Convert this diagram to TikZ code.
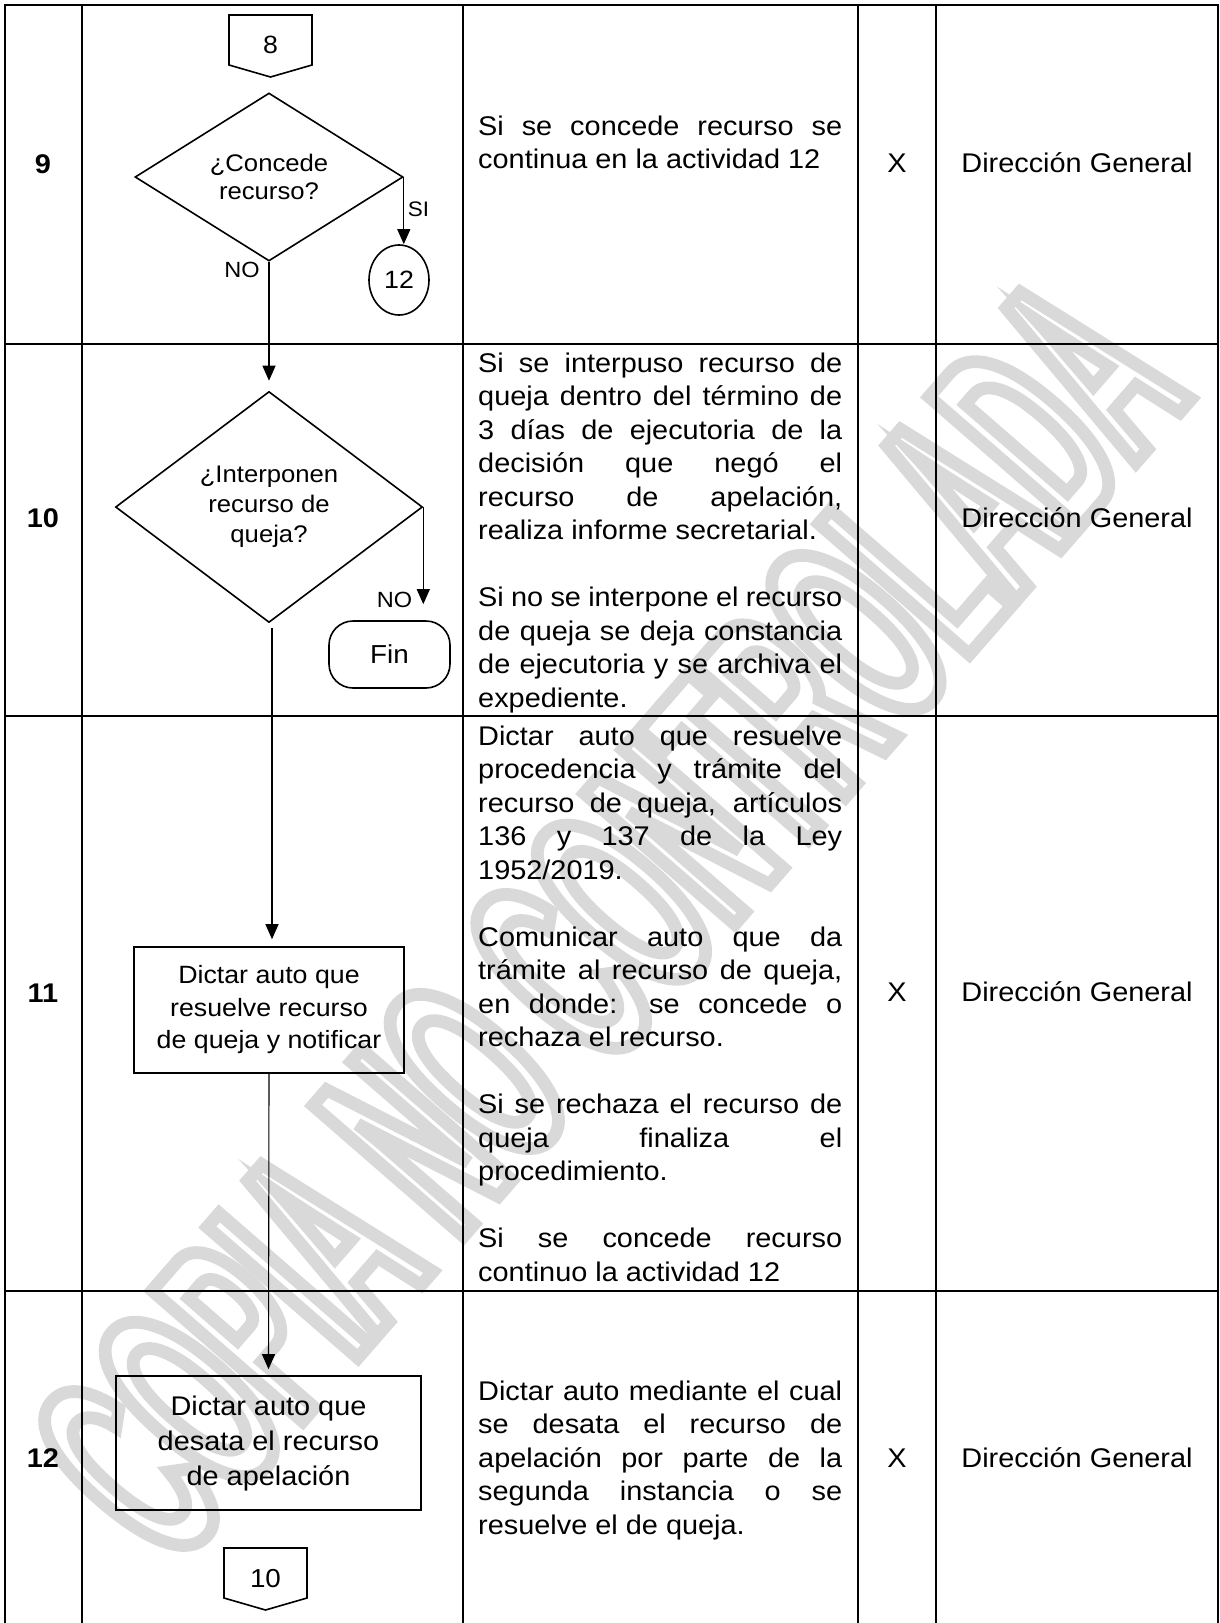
\documentclass[tikz,border=0pt]{standalone}
\usepackage{fontspec}
\setmainfont{Liberation Sans}[FakeStretch=1.07]
\newfontfamily\marcafont{Liberation Sans Bold}[FakeStretch=0.435,FakeBold=4.4]
\usetikzlibrary{shapes.geometric,arrows.meta,positioning}
\newcommand{\blanco}{\par\mbox{}\par}
\tolerance=10000
\hbadness=10000
\hyphenpenalty=10000

\begin{document}
\begin{tikzpicture}[x=1pt,y=-1pt,
    tabla/.style={line width=2.7pt,line cap=rect},
    forma/.style={draw,line width=1.6pt,inner sep=0pt},
    flecha/.style={line width=1.1pt,-{Triangle[length=15pt,width=13pt]}},
    flujo/.style={font=\fontsize{24}{28}\selectfont},
    texto/.style={anchor=base west,text width=364pt,align=justify,inner sep=0pt,
      font=\fontsize{27}{33.5}\selectfont},
    celda/.style={anchor=base,inner sep=0pt,font=\fontsize{27}{27}\selectfont},
    num/.style={celda,font=\bfseries\fontsize{27}{27}\selectfont}]
    \useasboundingbox (0,0) rectangle (1220,1623);

    % Watermark
    \node[rotate=49,inner sep=0pt,font=\marcafont\fontsize{290}{290}\selectfont] (marca) at (608,918)
      {\special{pdf:literal direct 1 g 0.85 G}COPIA NO CONTROLADA\special{pdf:literal direct 0 g 0 G}};

    % Draw table
    \draw[tabla] (5,5) -- (1218,5);
    \foreach \y in {344,716,1291} \draw[tabla] (5,\y) -- (1218,\y);
    \foreach \x in {5,82,463,858,936,1218} \draw[tabla] (\x,5) -- (\x,1623);

    % Activity numbers
    \node[num] (n9) at (43,173) {9};
    \node[num] (n10) at (43,527) {10};
    \node[num] (n11) at (43,1002) {11};
    \node[num] (n12) at (43,1467) {12};

    % Activity 9
    \node[anchor=base,font=\fontsize{25}{25}\selectfont] (c8) at (270.5,53) {8};
    \draw[line width=1.6pt] (229,15) -- (312,15) -- (312,65) -- (270.5,77) -- (229,65) -- cycle;
    \node[forma,flujo,diamond,aspect=1.6,minimum width=268pt,minimum height=168pt,align=center] (d1) at (269,177) {¿Concede\\recurso?};
    \node[forma,ellipse,minimum width=60pt,minimum height=70pt,font=\fontsize{25}{25}\selectfont] (c12) at (399,280) {12};
    \node[anchor=base,inner sep=0pt,font=\fontsize{21}{21}\selectfont] (si) at (418.5,216) {SI};
    \node[anchor=base,inner sep=0pt,font=\fontsize{22}{22}\selectfont] (no1) at (242,277) {NO};
    \draw[flecha] (d1.east) -- (d1.east |- c12.north);

    % Activity 10
    \node[forma,diamond,aspect=1.33,minimum width=307pt,minimum height=231pt,align=center,font=\fontsize{24}{30}\selectfont] (d2) at (269,507) {¿Interponen\\recurso de\\queja?};
    \node[forma,rounded corners=24pt,minimum width=121pt,minimum height=67pt,font=\fontsize{26}{26}\selectfont] (fin) at (389.5,654.5) {Fin};
    \node[anchor=base,inner sep=0pt,font=\fontsize{22}{22}\selectfont] (no2) at (394.5,607) {NO};
    \draw[flecha,shorten >=10pt] (d1.south) -- (d2.north);
    \draw[flecha,shorten >=16pt] (d2.east) -- (d2.east |- fin.north);

    % Activity 11
    \node[forma,minimum width=270pt,minimum height=126pt,align=center,font=\fontsize{25}{32.5}\selectfont] (b11) at (269,1010)
      {Dictar auto que\\resuelve recurso\\de queja y notificar};
    \draw[flecha,shorten <=5pt,shorten >=7pt] ([xshift=3pt]d2.south) -- ([xshift=3pt]b11.north);

    % Activity 12
    \node[forma,minimum width=305pt,minimum height=134pt,align=center,font=\fontsize{27}{35}\selectfont] (b12) at (268.5,1443)
      {Dictar auto que\\desata el recurso\\de apelación};
    \draw[flecha,shorten >=6pt] (b11.south) -- (b12.north);
    \node[anchor=base,font=\fontsize{26}{26}\selectfont] (c10) at (265.5,1587) {10};
    \draw[line width=1.6pt] (224,1548) -- (307,1548) -- (307,1598) -- (265.5,1610) -- (224,1598) -- cycle;

    % Descriptions
    \node[texto] (t9) at (478,135) {Si se concede recurso se\linebreak continua en la actividad 12};
    \node[texto] (t10) at (478,372) {Si se interpuso recurso de\linebreak queja dentro del término de\linebreak
      3 días de ejecutoria de la\linebreak decisión que negó el\linebreak recurso de apelación,\linebreak
      realiza informe secretarial.\blanco Si no se interpone el recurso\linebreak de queja se deja constancia\linebreak
      de ejecutoria y se archiva el\linebreak expediente.};
    \node[texto] (t11) at (478,745) {Dictar auto que resuelve\linebreak procedencia y trámite del\linebreak
      recurso de queja, artículos\linebreak 136 y 137 de la Ley\linebreak 1952/2019.\blanco
      Comunicar auto que da\linebreak trámite al recurso de queja,\linebreak en donde: se concede o\linebreak
      rechaza el recurso.\blanco Si se rechaza el recurso de\linebreak queja finaliza el\linebreak
      procedimiento.\blanco Si se concede recurso\linebreak continuo la actividad 12};
    \node[texto] (t12) at (478,1400) {Dictar auto mediante el cual\linebreak se desata el recurso de\linebreak
      apelación por parte de la\linebreak segunda instancia o se\linebreak resuelve el de queja.};

    % Control and responsible
    \node[celda] (x9) at (897,172) {X};
    \node[celda] (x11) at (897,1001) {X};
    \node[celda] (x12) at (897,1467) {X};
    \node[celda] (r9) at (1077,172) {Dirección General};
    \node[celda] (r10) at (1077,527) {Dirección General};
    \node[celda] (r11) at (1077,1001) {Dirección General};
    \node[celda] (r12) at (1077,1467) {Dirección General};
\end{tikzpicture}
\end{document}
